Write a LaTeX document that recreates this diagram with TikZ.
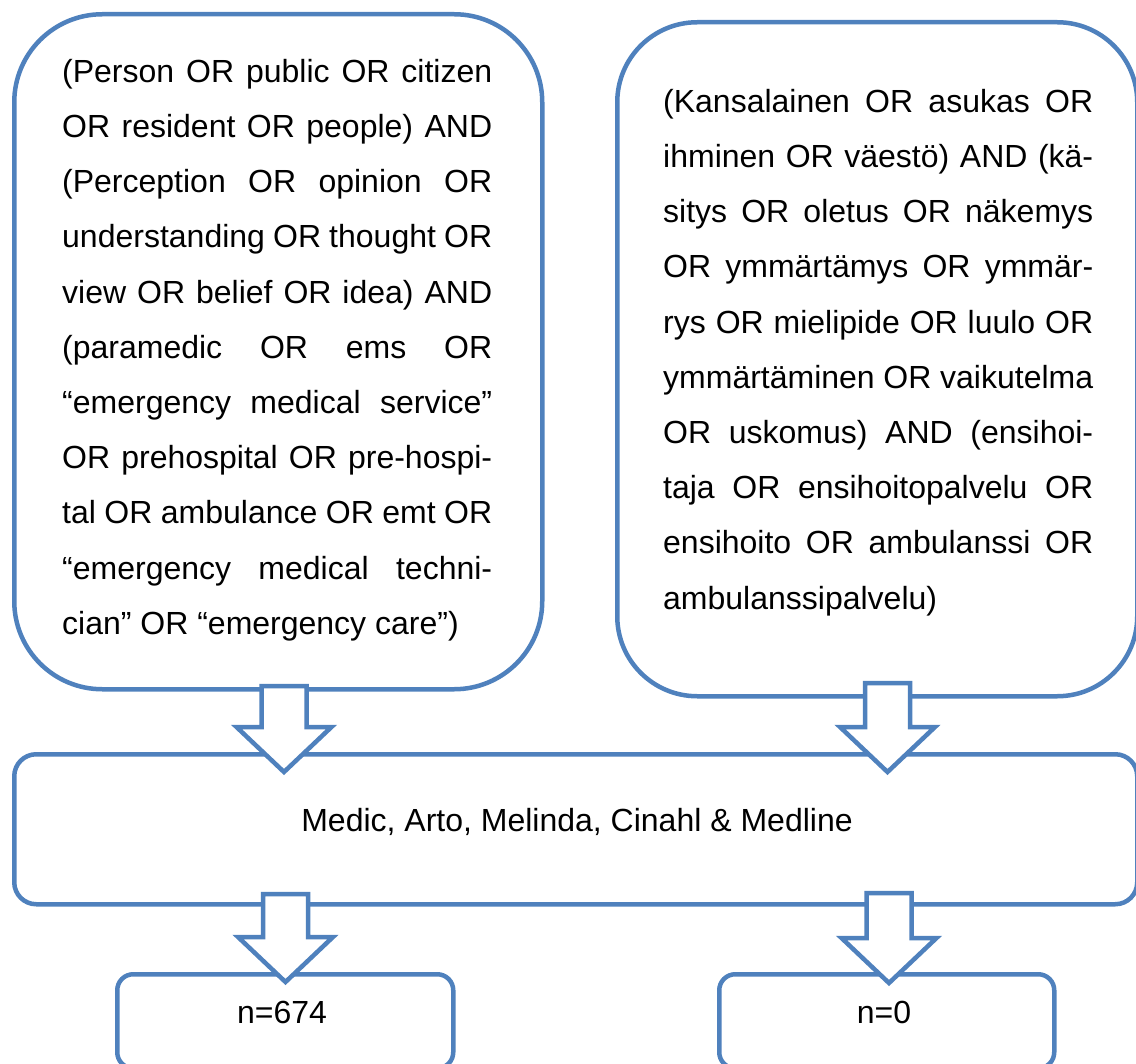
\documentclass[tikz,border=0pt]{standalone}
\usepackage{fontspec}
\setmainfont{Liberation Sans}
\usetikzlibrary{calc}
\definecolor{boxblue}{RGB}{79,129,189}

% width of the justified query columns
\newlength\qw
\setlength\qw{430pt}
\newcommand\jline[1]{\makebox[\qw][s]{#1}\\}
\newcommand\lline[1]{\makebox[\qw][l]{#1}}
\newcommand\firststrut{\rule{0pt}{40pt}}

\tikzset{
  frame/.style={draw=boxblue, line width=4.5pt, fill=white, inner sep=0pt,
                anchor=north west},
  qtext/.style={anchor=north west, inner sep=0pt, align=left,
                font=\fontsize{32}{55.2}\selectfont},
  label/.style={anchor=base, inner sep=0pt, font=\fontsize{32}{38}\selectfont},
  blockarrow/.style={draw=boxblue, line width=4.5pt, fill=white, line join=miter},
}

% hollow downward block arrow: #1 = top of the shaft, #2 = tip
\newcommand\downblock[2]{%
  \draw[blockarrow] let \p1=(#1), \p2=(#2) in
    (\x2-22.5pt,\y1) -- (\x2+22.5pt,\y1) -- (\x2+22.5pt,\y2+45pt)
    -- (\x2+47.5pt,\y2+45pt) -- (\x2,\y2) -- (\x2-47.5pt,\y2+45pt)
    -- (\x2-22.5pt,\y2+45pt) -- cycle;}

\begin{document}
\begin{tikzpicture}[x=1pt, y=-1pt]
\useasboundingbox (0,0) rectangle (1136,1064);

% boxes
\node[frame, rounded corners=88pt, minimum width=528pt, minimum height=675pt] (qen) at (12,12) {};
\node[frame, rounded corners=80pt, minimum width=520pt, minimum height=674pt] (qfi) at (615,20) {};
\node[frame, rounded corners=22pt, minimum width=1123pt, minimum height=150pt] (db) at (12,752) {};
\node[frame, rounded corners=16pt, minimum width=336pt, minimum height=94pt] (res1) at (115,972) {};
\node[frame, rounded corners=16pt, minimum width=335pt, minimum height=94pt] (res2) at (717,972) {};

% search strings
\node[qtext] (qentext) at (62,42) {%
\jline{\firststrut(Person OR public OR citizen}
\jline{OR resident OR people) AND}
\jline{(Perception OR opinion OR}
\jline{understanding OR thought OR}
\jline{view OR belief OR idea) AND}
\jline{(paramedic OR ems OR}
\jline{“emergency medical service”}
\jline{OR prehospital OR pre-hospi-}
\jline{tal OR ambulance OR emt OR}
\jline{“emergency medical techni-}
\lline{cian” OR “emergency care”)}};

\node[qtext] (qfitext) at (663,72) {%
\jline{\firststrut(Kansalainen OR asukas OR}
\jline{ihminen OR väestö) AND (kä-}
\jline{sitys OR oletus OR näkemys}
\jline{OR ymmärtämys OR ymmär-}
\jline{rys OR mielipide OR luulo OR}
\jline{ymmärtäminen OR vaikutelma}
\jline{OR uskomus) AND (ensihoi-}
\jline{taja OR ensihoitopalvelu OR}
\jline{ensihoito OR ambulanssi OR}
\lline{ambulanssipalvelu)}};

% databases and hit counts
\node[label] (dbtext) at (577,831) {Medic, Arto, Melinda, Cinahl \& Medline};
\node[label] (n1) at (282,1023) {n=674};
\node[label] (n2) at (884,1023) {n=0};

% flow arrows
\coordinate (a1s) at (284,686);   \coordinate (a1e) at (284,772);
\coordinate (a2s) at (887.5,683); \coordinate (a2e) at (887.5,772);
\coordinate (a3s) at (285.5,894); \coordinate (a3e) at (285.5,982);
\coordinate (a4s) at (889,893);   \coordinate (a4e) at (889,983);
\downblock{a1s}{a1e}
\downblock{a2s}{a2e}
\downblock{a3s}{a3e}
\downblock{a4s}{a4e}
\end{tikzpicture}
\end{document}
